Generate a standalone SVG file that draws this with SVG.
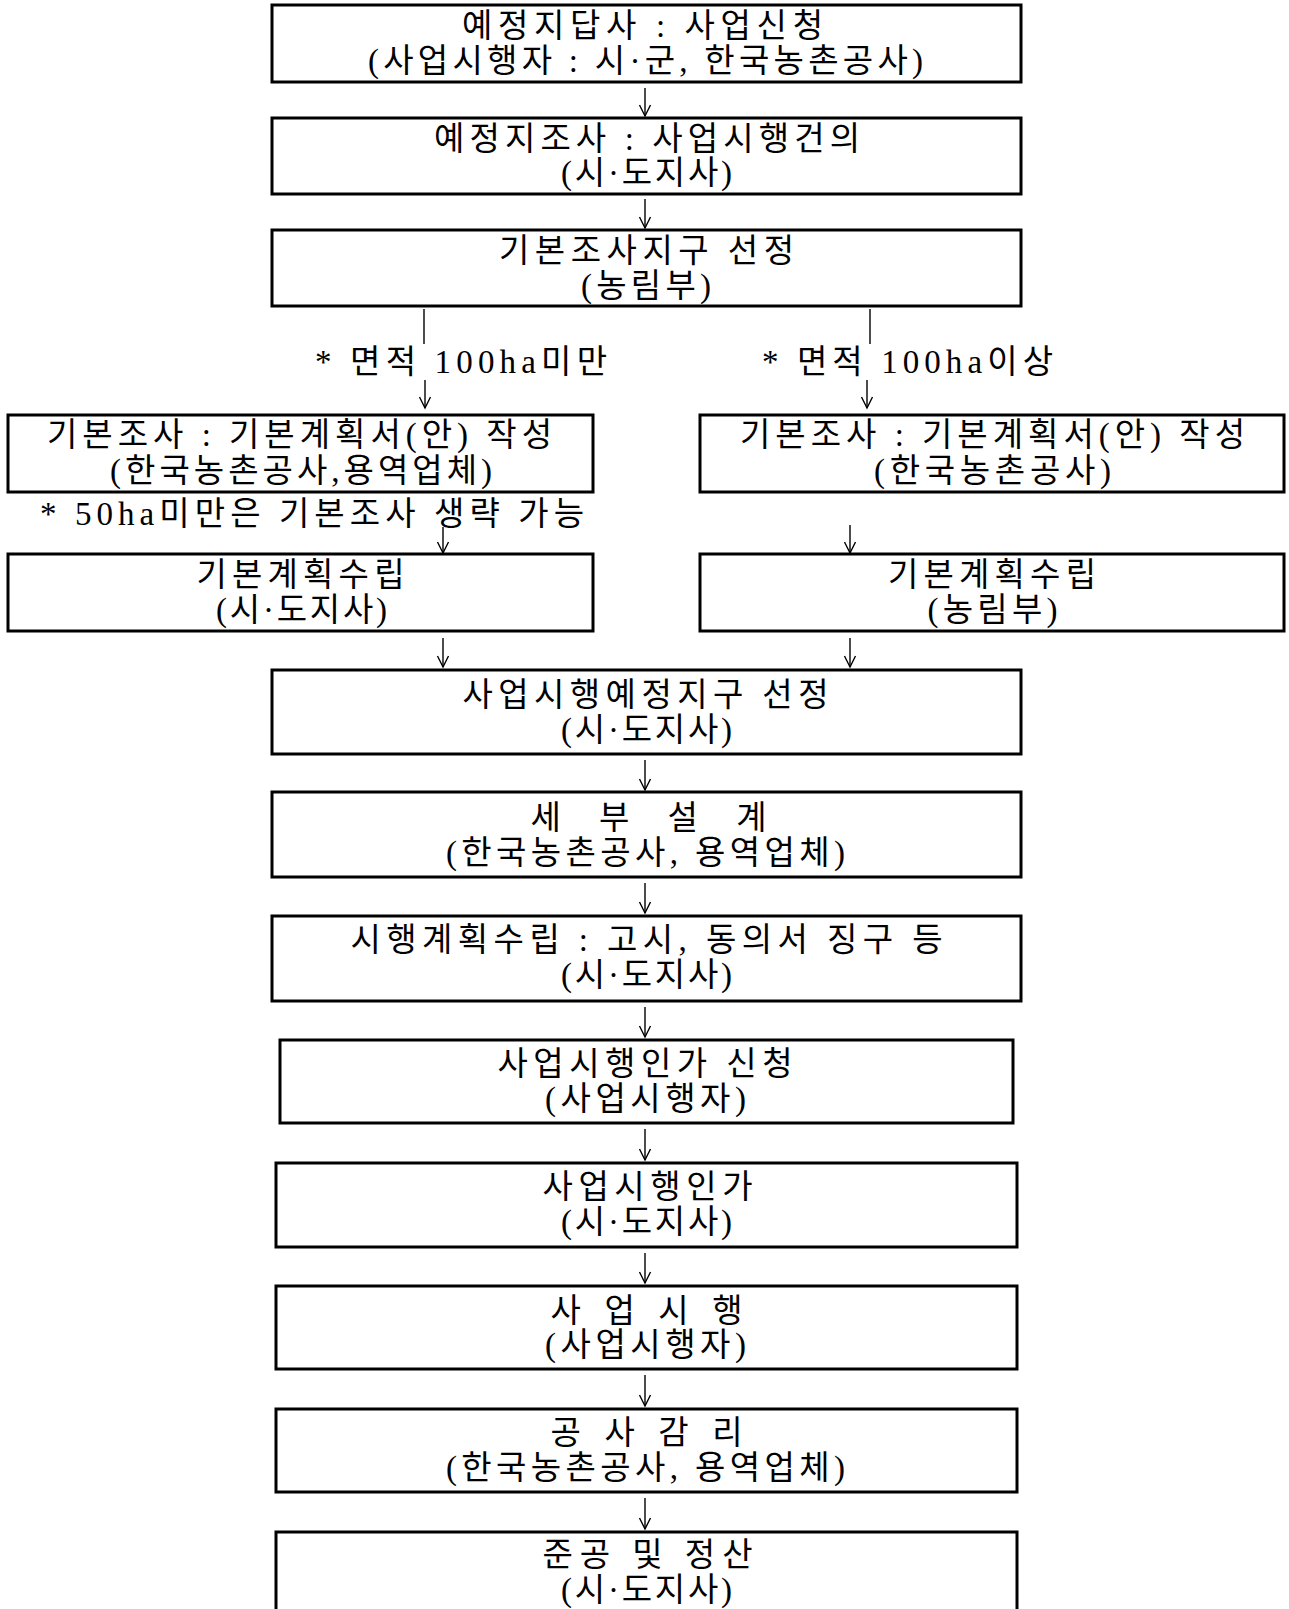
<svg xmlns="http://www.w3.org/2000/svg" width="1289" height="1609" viewBox="0 0 1289 1609">
<style>
  .box { fill: #ffffff; stroke: #000000; stroke-width: 3; }
  .t { font-family: "Liberation Serif", "Noto Sans CJK KR", serif; font-size: 33px; fill: #000000; text-anchor: middle; }
  .c { stroke: #000000; stroke-width: 1.4; fill: none; }
</style>
<defs>
  <marker id="ah" markerUnits="userSpaceOnUse" markerWidth="20" markerHeight="20" refX="0" refY="0" orient="auto" overflow="visible">
    <path d="M-11,-5.5 L0,0 L-11,5.5" fill="none" stroke="#000000" stroke-width="1.4"/>
  </marker>
</defs>
<rect width="1289" height="1609" fill="#ffffff"/>

<g id="connectors">
  <line class="c" x1="645" y1="88" x2="645" y2="116" marker-end="url(#ah)"/>
  <line class="c" x1="645" y1="199" x2="645" y2="228" marker-end="url(#ah)"/>
  <line class="c" x1="424" y1="309" x2="424" y2="344"/>
  <line class="c" x1="425" y1="380" x2="425" y2="408" marker-end="url(#ah)"/>
  <line class="c" x1="870" y1="309" x2="870" y2="344"/>
  <line class="c" x1="867" y1="380" x2="867" y2="408" marker-end="url(#ah)"/>
  <line class="c" x1="443" y1="527" x2="443" y2="553" marker-end="url(#ah)"/>
  <line class="c" x1="850" y1="525" x2="850" y2="553" marker-end="url(#ah)"/>
  <line class="c" x1="443" y1="638" x2="443" y2="667" marker-end="url(#ah)"/>
  <line class="c" x1="850" y1="638" x2="850" y2="667" marker-end="url(#ah)"/>
  <line class="c" x1="645" y1="760" x2="645" y2="790" marker-end="url(#ah)"/>
  <line class="c" x1="645" y1="883" x2="645" y2="913" marker-end="url(#ah)"/>
  <line class="c" x1="645" y1="1007" x2="645" y2="1037" marker-end="url(#ah)"/>
  <line class="c" x1="645" y1="1129" x2="645" y2="1160" marker-end="url(#ah)"/>
  <line class="c" x1="645" y1="1253" x2="645" y2="1283" marker-end="url(#ah)"/>
  <line class="c" x1="645" y1="1375" x2="645" y2="1406" marker-end="url(#ah)"/>
  <line class="c" x1="645" y1="1498" x2="645" y2="1529" marker-end="url(#ah)"/>
</g>

<g id="n1">
  <rect class="box" x="272" y="5" width="749" height="77"/>
  <text class="t"><tspan x="642.5" y="37" textLength="361">예정지답사 : 사업신청</tspan><tspan x="645.5" y="72" textLength="555">(사업시행자 : 시·군, 한국농촌공사)</tspan></text>
</g>
<g id="n2">
  <rect class="box" x="272" y="118" width="749" height="76"/>
  <text class="t"><tspan x="647" y="150" textLength="426">예정지조사 : 사업시행건의</tspan><tspan x="646.5" y="184" textLength="171">(시·도지사)</tspan></text>
</g>
<g id="n3">
  <rect class="box" x="272" y="230" width="749" height="76"/>
  <text class="t"><tspan x="646.5" y="262" textLength="295">기본조사지구 선정</tspan><tspan x="646" y="297" textLength="130">(농림부)</tspan></text>
</g>
<g id="label-left">
  <text class="t" x="461" y="373" textLength="292">* 면적 100ha미만</text>
</g>
<g id="label-right">
  <text class="t" x="907.5" y="373" textLength="291">* 면적 100ha이상</text>
</g>
<g id="n4a">
  <rect class="box" x="8" y="415" width="585" height="77"/>
  <text class="t"><tspan x="299.5" y="446" textLength="505">기본조사 : 기본계획서(안) 작성</tspan><tspan x="301" y="482" textLength="382">(한국농촌공사,용역업체)</tspan></text>
</g>
<g id="note-left">
  <text class="t" x="312" y="525" textLength="544">* 50ha미만은 기본조사 생략 가능</text>
</g>
<g id="n4b">
  <rect class="box" x="700" y="415" width="584" height="77"/>
  <text class="t"><tspan x="992.5" y="446" textLength="505">기본조사 : 기본계획서(안) 작성</tspan><tspan x="992.5" y="482" textLength="237">(한국농촌공사)</tspan></text>
</g>
<g id="n5a">
  <rect class="box" x="8" y="554" width="585" height="77"/>
  <text class="t"><tspan x="300.5" y="586" textLength="208">기본계획수립</tspan><tspan x="301.5" y="621" textLength="171">(시·도지사)</tspan></text>
</g>
<g id="n5b">
  <rect class="box" x="700" y="554" width="584" height="77"/>
  <text class="t"><tspan x="992" y="586" textLength="208">기본계획수립</tspan><tspan x="992.5" y="621" textLength="130">(농림부)</tspan></text>
</g>
<g id="n6">
  <rect class="box" x="272" y="670" width="749" height="84"/>
  <text class="t"><tspan x="645.5" y="706" textLength="366">사업시행예정지구 선정</tspan><tspan x="646.5" y="741" textLength="171">(시·도지사)</tspan></text>
</g>
<g id="n7">
  <rect class="box" x="272" y="792" width="749" height="85"/>
  <text class="t"><tspan x="648.5" y="829" textLength="236">세 부 설 계</tspan><tspan x="645.5" y="864" textLength="399">(한국농촌공사, 용역업체)</tspan></text>
</g>
<g id="n8">
  <rect class="box" x="272" y="916" width="749" height="85"/>
  <text class="t"><tspan x="646.5" y="951" textLength="592">시행계획수립 : 고시, 동의서 징구 등</tspan><tspan x="646.5" y="986" textLength="171">(시·도지사)</tspan></text>
</g>
<g id="n9">
  <rect class="box" x="280" y="1040" width="733" height="83"/>
  <text class="t"><tspan x="645" y="1075" textLength="295">사업시행인가 신청</tspan><tspan x="645.5" y="1110" textLength="201">(사업시행자)</tspan></text>
</g>
<g id="n10">
  <rect class="box" x="276" y="1163" width="741" height="84"/>
  <text class="t"><tspan x="647.5" y="1198" textLength="210">사업시행인가</tspan><tspan x="646.5" y="1233" textLength="171">(시·도지사)</tspan></text>
</g>
<g id="n11">
  <rect class="box" x="276" y="1286" width="741" height="83"/>
  <text class="t"><tspan x="646.5" y="1322" textLength="192">사 업 시 행</tspan><tspan x="645.5" y="1356" textLength="201">(사업시행자)</tspan></text>
</g>
<g id="n12">
  <rect class="box" x="276" y="1409" width="741" height="83"/>
  <text class="t"><tspan x="646.5" y="1444" textLength="192">공 사 감 리</tspan><tspan x="645.5" y="1479" textLength="399">(한국농촌공사, 용역업체)</tspan></text>
</g>
<g id="n13">
  <rect class="box" x="276" y="1532" width="741" height="90"/>
  <text class="t"><tspan x="647.5" y="1566" textLength="210">준공 및 정산</tspan><tspan x="646.5" y="1601" textLength="171">(시·도지사)</tspan></text>
</g>
</svg>
